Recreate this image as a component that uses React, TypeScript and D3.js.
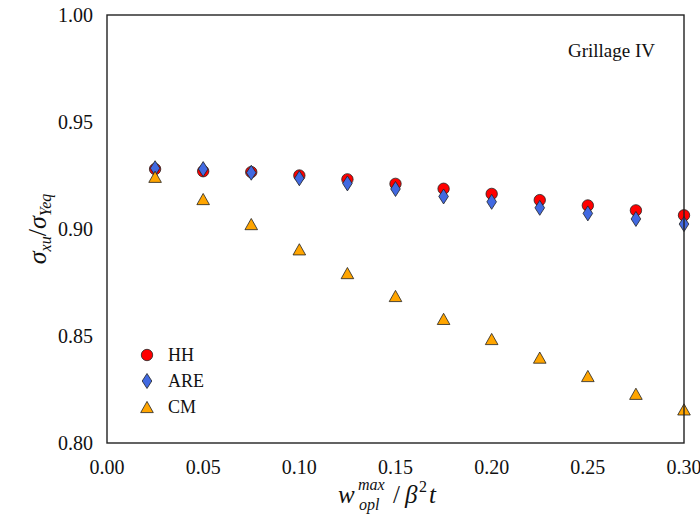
import React from "react";
import * as d3 from "d3";

const xValues = [0.025, 0.05, 0.075, 0.1, 0.125, 0.15, 0.175, 0.2, 0.225, 0.25, 0.275, 0.3];
const hhValues = [0.928, 0.927, 0.9266, 0.925, 0.9232, 0.9211, 0.9188, 0.9164, 0.9135, 0.911, 0.9087, 0.9064];
const areValues = [0.9284, 0.928, 0.9263, 0.9237, 0.9213, 0.9187, 0.9152, 0.9127, 0.9099, 0.9073, 0.9047, 0.9023];
const cmValues = [0.9244, 0.914, 0.9023, 0.8905, 0.8794, 0.8687, 0.858, 0.8486, 0.8399, 0.8313, 0.823, 0.8157];
const xTicks = [0, 0.05, 0.1, 0.15, 0.2, 0.25, 0.3];
const yTicks = [0.8, 0.85, 0.9, 0.95, 1.0];
const seriesNames = ["HH", "ARE", "CM"];
const seriesColors = ["#ff0000", "#4169e1", "#ffa500"];

const W = 700, H = 527;
const L = 107, R = 684, T = 15, B = 443;
const FONT = "'Liberation Serif', 'DejaVu Serif', serif";

const x = d3.scaleLinear().domain([0, 0.3]).range([L, R]);
const y = d3.scaleLinear().domain([0.8, 1.0]).range([B, T]);

function Marker({ kind, cx, cy, color }: { kind: number; cx: number; cy: number; color: string }) {
  const stroke = "#222";
  const sw = 0.8;
  if (kind === 0) return <circle cx={cx} cy={cy} r={5.7} fill={color} stroke={stroke} strokeWidth={sw} />;
  if (kind === 1) {
    const hh = 7.5, hw = 4.8;
    return <path d={`M${cx},${cy - hh}L${cx + hw},${cy}L${cx},${cy + hh}L${cx - hw},${cy}Z`} fill={color} stroke={stroke} strokeWidth={sw} />;
  }
  const h = 5.6, w = 6.3;
  return <path d={`M${cx},${cy - h}L${cx + w},${cy + h}L${cx - w},${cy + h}Z`} fill={color} stroke={stroke} strokeWidth={sw} />;
}

export default function App() {
  const all = [hhValues, areValues, cmValues];
  return (
    <svg width={W} height={H} style={{ position: "absolute", left: 0, top: 0, background: "#fff" }}>
      <rect x={0} y={0} width={W} height={H} fill="#fff" />
      {all.map((vals, si) =>
        vals.map((v, i) => (
          <Marker key={`${si}-${i}`} kind={si} cx={x(xValues[i])} cy={y(v)} color={seriesColors[si]} />
        ))
      )}
      <rect x={L} y={T} width={R - L} height={B - T} fill="none" stroke="#222" strokeWidth={1.4} />
      {xTicks.map((t) => (
        <text key={t} x={x(t)} y={B + 31} textAnchor="middle" fontFamily={FONT} fontSize={20} fill="#111">
          {t.toFixed(2)}
        </text>
      ))}
      {yTicks.map((t) => (
        <text key={t} x={L - 14} y={y(t) + 7} textAnchor="end" fontFamily={FONT} fontSize={20} fill="#111">
          {t.toFixed(2)}
        </text>
      ))}
      <text x={655} y={57} textAnchor="end" fontFamily={FONT} fontSize={19} fill="#111">Grillage IV</text>
      {seriesNames.map((n, i) => (
        <g key={n}>
          <Marker kind={i} cx={147} cy={355 + i * 26} color={seriesColors[i]} />
          <text x={168} y={361 + i * 26} fontFamily={FONT} fontSize={18} fill="#111">{n}</text>
        </g>
      ))}
      {/* x label */}
      <g fontFamily={FONT} fill="#111">
        <text x={338} y={503} fontSize={25} fontStyle="italic">w</text>
        <text x={358} y={490} fontSize={16} fontStyle="italic">max</text>
        <text x={359} y={510} fontSize={16} fontStyle="italic">opl</text>
        <text x={393} y={503} fontSize={25}>/</text>
        <text x={405} y={503} fontSize={25} fontStyle="italic">β</text>
        <text x={419} y={492} fontSize={16}>2</text>
        <text x={429} y={503} fontSize={25} fontStyle="italic">t</text>
      </g>
      {/* y label */}
      <text transform={`translate(46,229) rotate(-90)`} textAnchor="middle" fontFamily={FONT} fontSize={26} fill="#111" fontStyle="italic">
        <tspan>σ</tspan>
        <tspan fontSize={16} dy={5}>xu</tspan>
        <tspan dy={-5} fontStyle="normal">/</tspan>
        <tspan>σ</tspan>
        <tspan fontSize={16} dy={5}>Yeq</tspan>
      </text>
    </svg>
  );
}
